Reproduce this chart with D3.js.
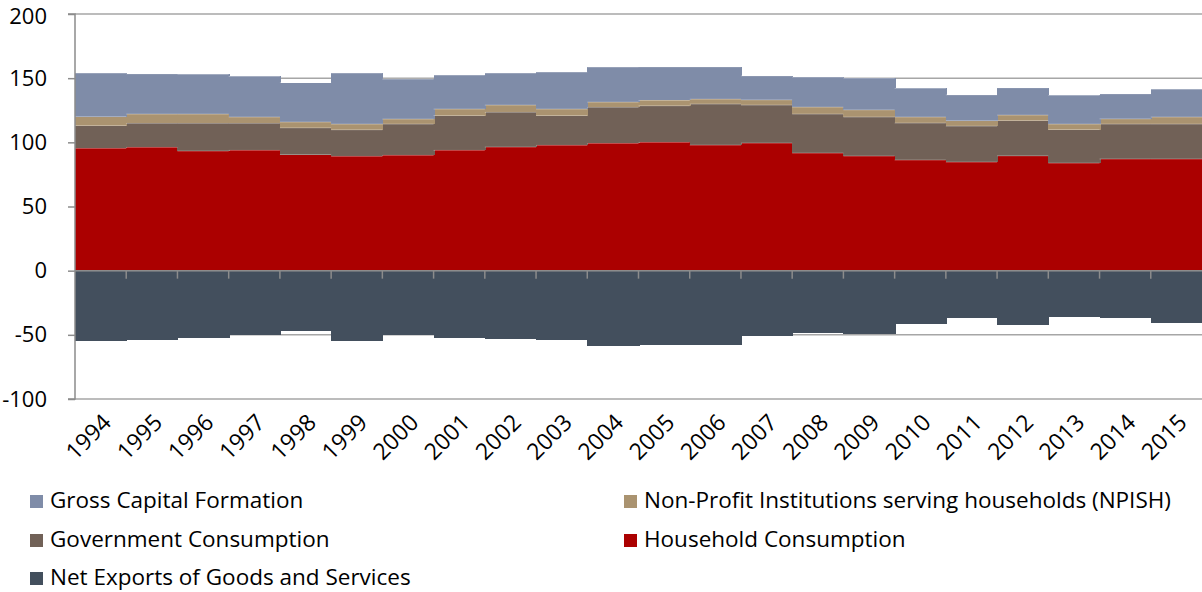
<!DOCTYPE html>
<html><head><meta charset="utf-8">
<script src="https://cdn.jsdelivr.net/npm/d3@7"></script>
<style>body{margin:0;background:#fff}svg{display:block}text{font-family:"Open Sans",sans-serif}</style>
</head><body><svg id="c" width="1202" height="592"></svg>
<script>
const years = ["1994","1995","1996","1997","1998","1999","2000","2001","2002","2003","2004","2005","2006","2007","2008","2009","2010","2011","2012","2013","2014","2015"];
// cumulative tops, converted to segment values below
const householdC = [95.2,96.0,93.2,93.7,90.5,89.0,89.8,93.7,96.3,97.6,99.1,99.9,97.8,99.4,91.6,89.3,86.2,84.6,89.5,83.8,87.0,87.0];
const govTop     = [113.1,114.7,114.7,114.7,111.3,109.8,114.2,120.9,123.3,120.9,127.2,128.5,129.8,129.0,122.0,119.7,115.0,112.6,117.0,110.0,114.2,114.2];
const npishTop   = [120.1,122.0,122.0,119.7,115.8,114.2,118.1,125.9,129.0,125.9,131.3,132.6,133.6,133.1,127.4,125.3,119.7,117.0,121.2,114.2,118.3,119.7];
const gcfTop     = [153.9,153.4,152.9,151.3,146.6,153.9,149.2,152.3,153.9,154.7,158.6,158.8,158.8,151.8,150.8,150.0,142.0,137.0,142.5,136.5,137.8,141.2];
const netExports = [-54.6,-53.8,-52.8,-50.5,-46.9,-54.6,-50.2,-52.8,-53.5,-54.2,-58.5,-57.7,-57.7,-50.8,-48.5,-49.5,-41.3,-36.7,-42.0,-36.4,-37.2,-40.5];
const yTicks = [-100,-50,0,50,100,150,200];

const household = householdC;
const government = govTop.map((v,i)=> +(v-householdC[i]).toFixed(1));
const npish = npishTop.map((v,i)=> +(v-govTop[i]).toFixed(1));
const gcf = gcfTop.map((v,i)=> +(v-npishTop[i]).toFixed(1));

const series = [
  {key:"household", name:"Household Consumption", color:"#ab0000", vals:household},
  {key:"government", name:"Government Consumption", color:"#716157", vals:government},
  {key:"npish", name:"Non-Profit Institutions serving households (NPISH)", color:"#aa9370", vals:npish},
  {key:"gcf", name:"Gross Capital Formation", color:"#7f8ca8", vals:gcf},
  {key:"netx", name:"Net Exports of Goods and Services", color:"#434f5d", vals:netExports}
];
const table = years.map((y,i)=>{const o={year:y}; series.forEach(s=>o[s.key]=s.vals[i]); return o;});

const svg = d3.select("#c");
const L=75, R=1202, T=14, B=399;
const x = d3.scaleBand().domain(years).range([L,R]).paddingInner(0).paddingOuter(0);
const y = d3.scaleLinear().domain([-100,200]).range([B,T]);

// gridlines
svg.append("g").selectAll("line").data(yTicks.filter(d=>d!==0)).join("line")
  .attr("x1",L).attr("x2",R).attr("y1",d=>y(d)).attr("y2",d=>y(d))
  .attr("stroke","#a6a6a6").attr("stroke-width",1.5);

const stack = d3.stack().keys(series.map(s=>s.key)).offset(d3.stackOffsetDiverging);
const stacked = stack(table);
const gBars = svg.append("g");
stacked.forEach((layer,li)=>{
  const g = gBars.append("g").attr("shape-rendering","crispEdges");
  g.selectAll("rect").data(layer).join("rect")
    .attr("x",d=>x(d.data.year)).attr("width",x.bandwidth()+1)
    .attr("y",d=>y(Math.max(d[0],d[1]))).attr("height",d=>Math.abs(y(d[0])-y(d[1])))
    .attr("fill",series[li].color);
});
// light edges at the outer end of each segment
stacked.forEach((layer,li)=>{
  gBars.append("g").selectAll("line").data(layer).join("line")
    .attr("x1",d=>x(d.data.year)).attr("x2",d=>x(d.data.year)+x.bandwidth())
    .attr("y1",d=>y(d[1]<0?d[0]:d[1])).attr("y2",d=>y(d[1]<0?d[0]:d[1]))
    .attr("stroke","rgba(255,255,255,0.3)").attr("stroke-width",1);
});

// y axis
const yAxis = d3.axisLeft(y).tickValues(yTicks).tickSize(7).tickPadding(21).tickFormat(d=>String(d));
const ga = svg.append("g").attr("transform",`translate(${L},0)`).call(yAxis);
ga.select(".domain").attr("stroke","#8c8c8c").attr("stroke-width",1.5).attr("d",`M-7,${T}H0V${B}H-7`);
ga.selectAll(".tick line").attr("stroke","#8c8c8c").attr("stroke-width",1.5);
ga.selectAll(".tick text").attr("font-size",22).attr("fill","#000").attr("font-family","Open Sans");
ga.selectAll(".tick text").filter(d=>d===200).attr("dy","0.45em");

// zero axis with ticks at category boundaries
const zg = svg.append("g");
zg.append("line").attr("x1",L).attr("x2",R).attr("y1",y(0)).attr("y2",y(0)).attr("stroke","#8c8c8c").attr("stroke-width",1.5);
zg.selectAll("line.t").data(years.slice(1)).join("line").attr("class","t")
  .attr("x1",d=>x(d)).attr("x2",d=>x(d)).attr("y1",y(0)).attr("y2",y(0)+8)
  .attr("stroke","#8c8c8c").attr("stroke-width",1.5);

// x labels rotated
svg.append("g").selectAll("text").data(years).join("text")
  .attr("transform",d=>`translate(${x(d)+x.bandwidth()/2+12},${B+25}) rotate(-45)`)
  .attr("text-anchor","end").attr("font-size",23).attr("fill","#000").text(d=>d);

// legend
const leg = [
  {s:series[3], x:30, y:501},
  {s:series[2], x:624, y:501},
  {s:series[1], x:30, y:540},
  {s:series[0], x:624, y:540},
  {s:series[4], x:30, y:578}
];
const lg = svg.append("g");
leg.forEach(l=>{
  lg.append("rect").attr("x",l.x).attr("y",l.y-6).attr("width",13).attr("height",13).attr("fill",l.s.color);
  lg.append("text").attr("x",l.x+20).attr("y",l.y+7).attr("font-size",22.5).attr("fill","#000").text(l.s.name);
});
</script></body></html>
